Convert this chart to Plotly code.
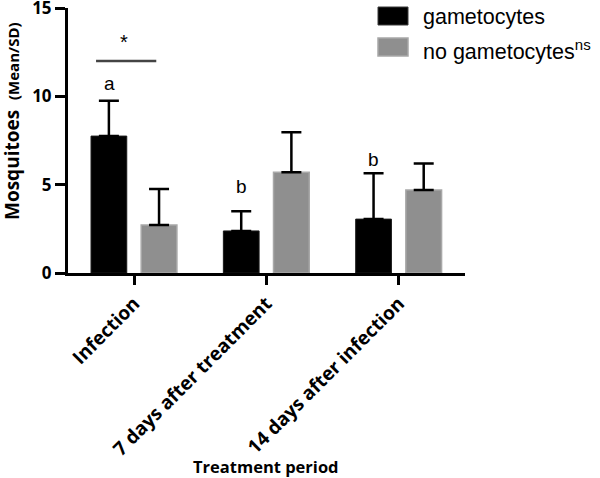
import plotly.graph_objects as go

categories = ["Infection", "7 days after treatment", "14 days after infection"]
gam_mean = [7.75, 2.38, 3.05]
gam_sd = [2.0, 1.12, 2.59]
nogam_mean = [2.72, 5.7, 4.7]
nogam_sd = [2.03, 2.26, 1.5]
letters = ["a", "b", "b"]
letter_y = [10.7, 4.87, 6.4]

W, H = 600, 478
L, R, T, B = 68, 135, 8, 205
pw, ph = W - L - R, H - T - B

def px(x):
    return (x - L) / pw

def py(y):
    return (H - B - y) / ph

AX = "Open Sans"
LG = "Liberation Sans"

fig = go.Figure()
fig.add_trace(go.Bar(
    x=categories, y=gam_mean, name="gametocytes",
    marker=dict(color="#000000", line=dict(color="#1a1a1a", width=1)),
    width=0.27, offset=-0.326,
    error_y=dict(type="data", array=gam_sd, arrayminus=[0, 0, 0], symmetric=False,
                 color="#000000", thickness=2.5, width=10),
))
fig.add_trace(go.Bar(
    x=categories, y=nogam_mean, name="no gametocytes",
    marker=dict(color="#8f8f8f", line=dict(color="#a8a8a8", width=1.5)),
    width=0.27, offset=0.053,
    error_y=dict(type="data", array=nogam_sd, arrayminus=[0, 0, 0], symmetric=False,
                 color="#000000", thickness=2.5, width=10),
))

C = dict(xanchor="center", yanchor="middle", showarrow=False)
ann = []
for i, (lt, ly) in enumerate(zip(letters, letter_y)):
    ann.append(dict(x=i - 0.19, y=ly, xref="x", yref="y", text=lt, **C,
                    font=dict(family=LG, size=19, color="#000")))
ann.append(dict(x=-0.076, y=13.1, xref="x", yref="y", text="*", **C,
                font=dict(family=LG, size=20, color="#000")))
# y title
ann.append(dict(x=px(12), y=py(121), xref="paper", yref="paper", textangle=-90,
                text="<b>Mosquitoes</b>  <span style='font-size:15px'><b>(Mean/SD)</b></span>",
                **C, font=dict(family=AX, size=19, color="#000")))
# x title
ann.append(dict(x=px(266), y=py(467), xref="paper", yref="paper",
                text="<b>Treatment period</b>", **C,
                font=dict(family=AX, size=16.5, color="#000")))
# legend texts
ann.append(dict(x=px(421), y=py(17), xref="paper", yref="paper", xanchor="left", yanchor="middle",
                text="gametocytes", showarrow=False,
                font=dict(family=LG, size=21.5, color="#000")))
ann.append(dict(x=px(421), y=py(50), xref="paper", yref="paper", xanchor="left", yanchor="middle",
                text="no gametocytes<sup>ns</sup>", showarrow=False,
                font=dict(family=LG, size=21.5, color="#000")))

shapes = [
    dict(type="line", xref="x", yref="y", x0=-0.288, x1=0.167, y0=12.0, y1=12.0,
         line=dict(color="#444444", width=2.5)),
    dict(type="rect", xref="paper", yref="paper", x0=px(378), x1=px(408), y0=py(25), y1=py(7),
         fillcolor="#000000", line=dict(color="#3a3a3a", width=1)),
    dict(type="rect", xref="paper", yref="paper", x0=px(378), x1=px(408), y0=py(56), y1=py(38),
         fillcolor="#8f8f8f", line=dict(color="#a8a8a8", width=1.5)),
]

fig.update_layout(
    width=W, height=H, margin=dict(l=L, r=R, t=T, b=B, autoexpand=False),
    paper_bgcolor="white", plot_bgcolor="white", showlegend=False,
    annotations=ann, shapes=shapes,
    xaxis=dict(type="category", range=[-0.5, 2.5], showline=True, linecolor="#000", linewidth=3,
               ticks="outside", ticklen=9, tickwidth=3, tickcolor="#000", tickangle=-45,
               showgrid=False, zeroline=False, automargin=False,
               tickfont=dict(family=AX, size=19, color="#000", weight="bold")),
    yaxis=dict(range=[0, 15], dtick=5, showline=True, linecolor="#000", linewidth=3,
               ticks="outside", ticklen=10, tickwidth=3, tickcolor="#000",
               showgrid=False, zeroline=False, automargin=False, ticklabeloverflow="allow",
               tickfont=dict(family=AX, size=17, color="#000", weight="bold")),
)

fig.write_html("out.html", config={"displayModeBar": False},
               post_script="document.body.style.margin='0px';")
